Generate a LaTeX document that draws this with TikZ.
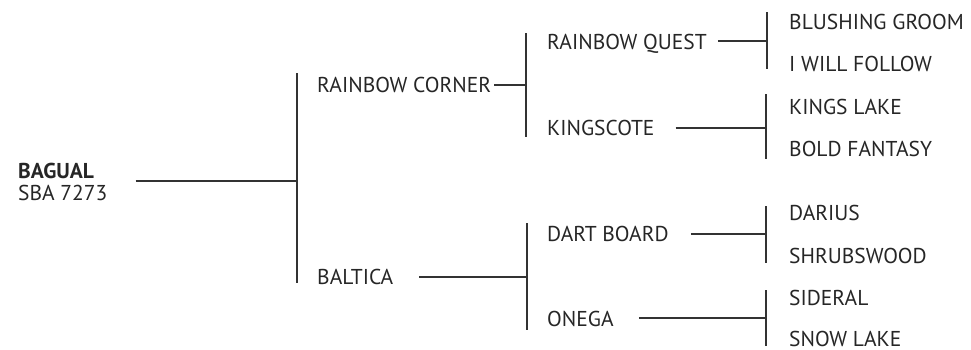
\documentclass[tikz,border=0pt]{standalone}
\usepackage{fontspec}
\setmainfont{PT Sans}
\usepackage{tikz}
\usetikzlibrary{positioning}

\begin{document}
\begin{tikzpicture}[x=1pt, y=-1pt,
horse/.style={anchor=west, inner sep=0pt, text=black!85, font=\fontsize{21.5pt}{22.5pt}\selectfont, text height=15pt, text depth=0pt},
line/.style={draw=black!80, line width=1.2pt}
]
	\useasboundingbox (0,0) rectangle (971,349);
	\node[horse, align=left, text height={}, text depth={}] (n1) at (18,182) {\textbf{BAGUAL}\\SBA 7273};
	\node[horse] (n2) at (317,85) {RAINBOW CORNER};
	\node[horse] (n3) at (317,277) {BALTICA};
	\node[horse] (n4) at (547,42) {RAINBOW QUEST};
	\node[horse] (n5) at (547,128) {KINGSCOTE};
	\node[horse] (n6) at (547,234) {DART BOARD};
	\node[horse] (n7) at (547,319) {ONEGA};
	\node[horse] (n8) at (789,22) {BLUSHING GROOM};
	\node[horse] (n9) at (789,64) {I WILL FOLLOW};
	\node[horse] (n10) at (789,107) {KINGS LAKE};
	\node[horse] (n11) at (789,149) {BOLD FANTASY};
	\node[horse] (n12) at (789,213) {DARIUS};
	\node[horse] (n13) at (789,256) {SHRUBSWOOD};
	\node[horse] (n14) at (789,298) {SIDERAL};
	\node[horse] (n15) at (789,338.5) {SNOW LAKE};
	\coordinate (j1) at (297,181);
	\coordinate (j2) at (526,85);
	\coordinate (j3) at (527,277);
	\coordinate (j4) at (767,41);
	\coordinate (j5) at (766,128);
	\coordinate (j6) at (766,234);
	\coordinate (j7) at (766,318);
	\draw[line] ([xshift=28pt]n1.east |- j1) -- (j1);
	\draw[line] ([yshift=4pt]n2.north -| j1) -- ([yshift=2pt]n3.south -| j1);
	\draw[line] ([xshift=3pt]n2.east) -- (j2);
	\draw[line] ([yshift=1pt]n4.north -| j2) -- ([yshift=-1pt]n5.south -| j2);
	\draw[line] ([xshift=26pt]n3.east) -- (j3);
	\draw[line] ([yshift=3pt]n6.north -| j3) -- ([yshift=-3pt]n7.south -| j3);
	\draw[line] ([xshift=11pt]n4.east |- j4) -- (j4);
	\draw[line] ([yshift=2pt]n8.north -| j4) -- ([yshift=3pt]n9.south -| j4);
	\draw[line] ([xshift=21pt]n5.east) -- (j5);
	\draw[line] ([yshift=5pt]n10.north -| j5) -- ([yshift=-2pt]n11.south -| j5);
	\draw[line] ([xshift=22pt]n6.east) -- (j6);
	\draw[line] ([yshift=-1pt]n12.north -| j6) -- ([yshift=1pt]n13.south -| j6);
	\draw[line] ([xshift=25pt]n7.east |- j7) -- (j7);
	\draw[line] ([yshift=0pt]n14.north -| j7) -- (n15.south -| j7);
\end{tikzpicture}
\end{document}
